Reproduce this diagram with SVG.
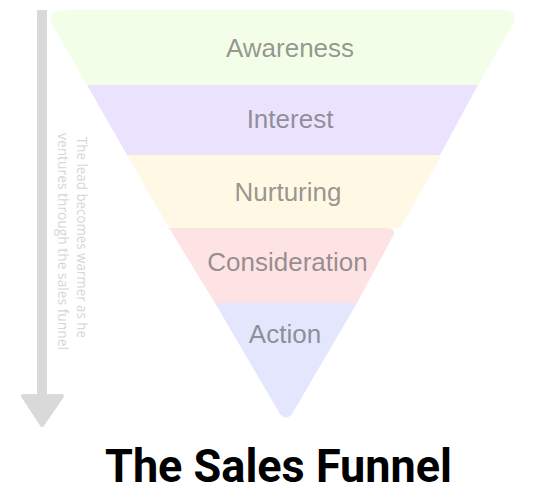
<svg xmlns="http://www.w3.org/2000/svg" width="540" height="501" viewBox="0 0 540 501">
<style>
.lbl{font-family:"Liberation Sans",Arial,sans-serif;font-size:26px;fill:#555;fill-opacity:.62;text-anchor:middle}
.side{font-family:"Open Sans","Noto Sans",sans-serif;font-size:15px;fill:#d6d6d6;text-anchor:middle}
.title{font-family:Roboto,"Noto Sans",sans-serif;font-weight:700;font-size:46px;fill:#000;text-anchor:middle}
.arrow{fill:#d9d9d9;stroke:#d9d9d9;stroke-width:4;stroke-linejoin:round}
</style>
<rect width="540" height="501" fill="#fff"/>
<g id="connectors">
  <g id="progress-arrow">
    <rect x="37" y="10" width="10" height="390" fill="#d9d9d9"/>
    <path class="arrow" d="M23,396 H62 L42,425 Z"/>
  </g>
</g>
<g id="awareness">
  <path d="M68,10 H501 Q521,10 512,26 L478,85 H87 L53,26 Q44,10 68,10 Z" fill="#f3fee8"/>
  <text class="lbl" x="290" y="57">Awareness</text>
</g>
<g id="interest">
  <path d="M87,85 H478 L440,155 H127 Z" fill="#ebe3fe"/>
  <text class="lbl" x="290" y="128">Interest</text>
</g>
<g id="nurturing">
  <path d="M127,155 H436 Q442,155 439,160 L400,228 H169 Z" fill="#fef8e4"/>
  <text class="lbl" x="288" y="201">Nurturing</text>
</g>
<g id="consideration">
  <path d="M169,228 H388 Q397,229 393,236 L357,303 H215 Z" fill="#fde3e4"/>
  <text class="lbl" x="287.5" y="271">Consideration</text>
</g>
<g id="action">
  <path d="M215,303 H357 L292,414 Q286,421 280,414 Z" fill="#e3e6fd"/>
  <text class="lbl" x="285" y="343">Action</text>
</g>
<g id="side-note">
  <text class="side" transform="translate(77,237.5) rotate(90)" textLength="201" lengthAdjust="spacingAndGlyphs">The lead becomes  warmer as he</text>
  <text class="side" transform="translate(58,241.5) rotate(90)" textLength="217" lengthAdjust="spacingAndGlyphs">ventures through the sales funnel</text>
</g>
<g id="title">
  <text class="title" x="278.5" y="482" textLength="347" lengthAdjust="spacingAndGlyphs">The Sales Funnel</text>
</g>
</svg>
